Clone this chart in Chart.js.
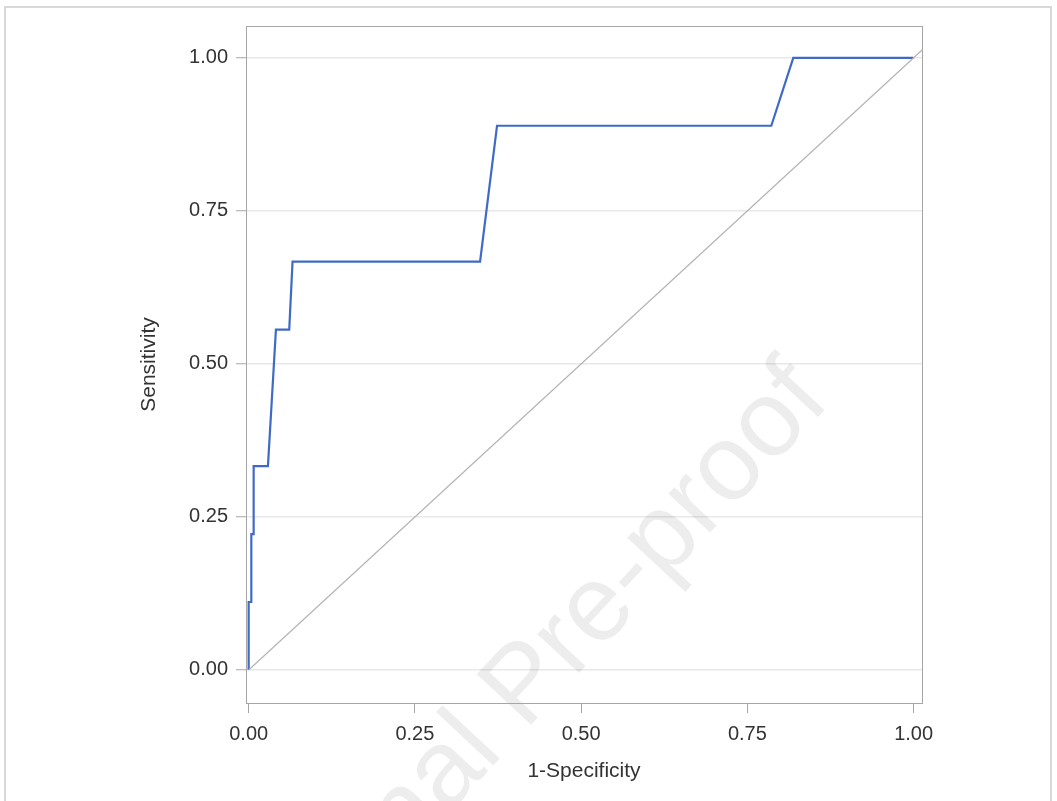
<!DOCTYPE html>
<html><head><meta charset="utf-8">
<script src="https://cdn.jsdelivr.net/npm/chart.js@4.4.1/dist/chart.umd.min.js"></script>
<style>html,body{margin:0;padding:0;background:#fff;} #wrap{width:1057px;height:801px;position:relative;}</style>
</head><body><div id="wrap"><canvas id="c" width="1057" height="801"></canvas></div>
<script>
// ROC curve points (1-Specificity, Sensitivity)
const rocX = [0, 0, 0.004, 0.004, 0.0075, 0.0075, 0.029, 0.041, 0.061, 0.066, 0.348, 0.3735, 0.786, 0.819, 1.0];
const rocY = [0, 0.111, 0.111, 0.222, 0.222, 0.333, 0.333, 0.556, 0.556, 0.667, 0.667, 0.889, 0.889, 1.0, 1.0];
// chance (reference) diagonal
const refX = [0, 1.1];
const refY = [0, 1.1];
const tickValues = [0, 0.25, 0.5, 0.75, 1.0];
const xTitle = '1-Specificity';
const yTitle = 'Sensitivity';
const watermark = 'Journal Pre-proof';

const FAMILY = '"Liberation Sans", Arial, Helvetica, sans-serif';

const decor = {
  id: 'decor',
  beforeDraw(chart) {
    const ctx = chart.ctx;
    ctx.save();
    ctx.fillStyle = '#ffffff';
    ctx.fillRect(0, 0, chart.width, chart.height);
    ctx.strokeStyle = '#d9d9d9';
    ctx.lineWidth = 2;
    ctx.strokeRect(5, 7, 1046, 810);
    ctx.restore();
  },
  beforeDatasetsDraw(chart) {
    const ctx = chart.ctx;
    const a = chart.chartArea;
    ctx.save();
    ctx.font = '108px ' + FAMILY;
    ctx.fillStyle = 'rgba(0,0,0,0.07)';
    ctx.translate(832, 402);
    ctx.rotate(-47 * Math.PI / 180);
    ctx.textAlign = 'right';
    ctx.textBaseline = 'alphabetic';
    ctx.fillText(watermark, 0, 0);
    ctx.restore();
    ctx.save();
    ctx.strokeStyle = '#a6a6a6';
    ctx.lineWidth = 1;
    ctx.strokeRect(Math.round(a.left) + 0.5, Math.round(a.top) + 0.5, Math.round(a.right - a.left), Math.round(a.bottom - a.top));
    ctx.restore();
  }
};

const toPts = (xs, ys) => xs.map((x, i) => ({x: x, y: ys[i]}));

new Chart(document.getElementById('c'), {
  type: 'scatter',
  data: {
    datasets: [
      {
        data: toPts(refX, refY), showLine: true, borderColor: '#b4b4b4', borderWidth: 1.2,
        pointRadius: 0, fill: false, tension: 0
      },
      {
        data: toPts(rocX, rocY), showLine: true, borderColor: '#3f6bc6', borderWidth: 2.2,
        pointRadius: 0, fill: false, tension: 0
      }
    ]
  },
  options: {
    responsive: false,
    animation: false,
    layout: {padding: {top: 26, right: 135, bottom: 0, left: 0}},
    plugins: {legend: {display: false}, tooltip: {enabled: false}},
    scales: {
      x: {
        type: 'linear', min: -0.004, max: 1.0126,
        afterBuildTicks: s => { s.ticks = tickValues.map(v => ({value: v})); },
        afterFit: s => { s.height = 98; },
        grid: {drawOnChartArea: false, drawTicks: true, tickLength: 10, tickColor: '#a6a6a6', tickWidth: 1},
        border: {display: false},
        ticks: {padding: 9, color: '#333333', font: {family: FAMILY, size: 20}, callback: v => Number(v).toFixed(2), maxRotation: 0, autoSkip: false},
        title: {display: true, text: xTitle, color: '#333333', font: {family: FAMILY, size: 21}, padding: {top: 0, bottom: 17}}
      },
      y: {
        type: 'linear', min: -0.054, max: 1.052,
        afterBuildTicks: s => { s.ticks = tickValues.map(v => ({value: v})); },
        afterFit: s => { s.width = 246; },
        grid: {color: '#e8e8e8', lineWidth: 1.5, drawTicks: true, tickLength: 10, tickColor: '#a6a6a6', tickWidth: 1},
        border: {display: false},
        ticks: {padding: 8, color: '#333333', font: {family: FAMILY, size: 20}, callback: v => Number(v).toFixed(2), autoSkip: false},
        title: {display: true, text: yTitle, color: '#333333', font: {family: FAMILY, size: 21}, padding: {top: 137, bottom: 0}}
      }
    }
  },
  plugins: [decor]
});
</script>
</body></html>
